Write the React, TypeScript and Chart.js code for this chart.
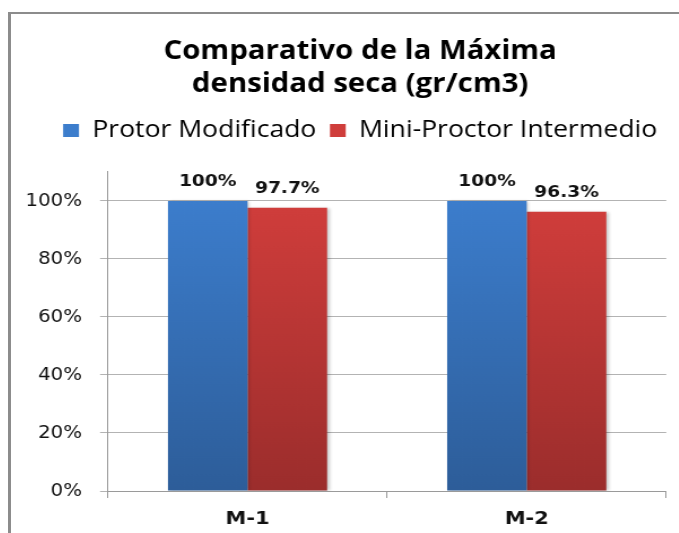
import React, { useEffect, useRef } from "react";
import { Chart, registerables } from "chart.js";

Chart.register(...registerables);

const titleLines = ["Comparativo de la Máxima", "densidad seca (gr/cm3)"];
const categories = ["M-1", "M-2"];
const seriesNames = ["Protor Modificado", "Mini-Proctor Intermedio"];
const protorValues = [1.0, 1.0];
const miniValues = [0.977, 0.963];
const yTickValues = [0, 0.2, 0.4, 0.6, 0.8, 1.0];
const yMax = 1.1;

const blueTop = "#3C7DCC";
const blueBottom = "#2D5D99";
const redTop = "#CF3D3B";
const redBottom = "#9B2D2C";

const STRETCH = 1.13;
const CW = 618;
const CH = 519;
const Y_AXIS_W = 85.8;
const RIGHT_SPACE_W = 38.1;
const X_AXIS_H = 42;
const SPACER_H = 19.75;

function gradientFill(top: string, bottom: string) {
  return (ctx: any) => {
    const chart = ctx.chart;
    const area = chart.chartArea;
    if (!area || ctx.type !== "data") return top;
    const ys = chart.scales.y;
    const y0 = ys.getPixelForValue(ctx.raw);
    const y1 = ys.getPixelForValue(0);
    if (!isFinite(y0) || !isFinite(y1) || y1 - y0 < 1) return top;
    const g = chart.ctx.createLinearGradient(0, y0, 0, y1);
    g.addColorStop(0, top);
    g.addColorStop(1, bottom);
    return g;
  };
}

const barShadow = {
  id: "barShadow",
  beforeDatasetsDraw(chart: any) {
    const ctx = chart.ctx;
    ctx.save();
    ctx.shadowColor = "rgba(0,0,0,0.22)";
    ctx.shadowBlur = 3;
    ctx.shadowOffsetX = 2;
    ctx.shadowOffsetY = 0;
  },
  afterDatasetsDraw(chart: any) {
    chart.ctx.restore();
  },
};

const valueLabels = {
  id: "valueLabels",
  afterDatasetsDraw(chart: any) {
    const ctx = chart.ctx;
    ctx.save();
    ctx.shadowColor = "rgba(0,0,0,0)";
    ctx.font = 'bold 16.5px "DejaVu Sans"';
    ctx.fillStyle = "#111111";
    ctx.textAlign = "center";
    ctx.textBaseline = "alphabetic";
    chart.data.datasets.forEach((ds: any, i: number) => {
      const meta = chart.getDatasetMeta(i);
      meta.data.forEach((bar: any, j: number) => {
        const v = ds.data[j];
        const txt = `${Math.round(v * 1000) / 10}%`;
        ctx.fillText(txt, bar.x, bar.y - 14.5);
      });
    });
    ctx.restore();
  },
};

const hiddenAxis = (position: string, size: number) => ({
  type: "linear",
  position,
  display: true,
  grid: { display: false },
  border: { display: false },
  ticks: { display: false },
  afterFit: (s: any) => {
    if (position === "top" || position === "bottom") s.height = size;
    else s.width = size;
  },
});

export default function App() {
  const canvasRef = useRef<HTMLCanvasElement | null>(null);

  useEffect(() => {
    if (!canvasRef.current) return;
    const chart = new Chart(canvasRef.current, {
      type: "bar",
      data: {
        labels: categories,
        datasets: [
          {
            label: seriesNames[0],
            data: protorValues,
            backgroundColor: gradientFill(blueTop, blueBottom),
            borderWidth: 0,
            categoryPercentage: 0.57,
            barPercentage: 1,
          },
          {
            label: seriesNames[1],
            data: miniValues,
            backgroundColor: gradientFill(redTop, redBottom),
            borderWidth: 0,
            categoryPercentage: 0.57,
            barPercentage: 1,
          },
        ],
      },
      options: {
        responsive: false,
        animation: false,
        devicePixelRatio: 1,
        layout: { padding: 0 },
        plugins: {
          title: {
            display: true,
            text: titleLines,
            color: "#000000",
            font: { family: "'Open Sans'", weight: "bold", size: 26, lineHeight: 1.27 },
            padding: { top: 21, bottom: 5.7 },
          },
          legend: {
            display: true,
            position: "top",
            labels: {
              boxWidth: 14,
              boxHeight: 13,
              padding: 12,
              color: "#000000",
              font: { family: "'Open Sans'", size: 23.5 },
            },
          },
          tooltip: { enabled: false },
        },
        scales: {
          x: {
            type: "category",
            grid: {
              display: true,
              drawOnChartArea: false,
              drawTicks: true,
              tickLength: 7,
              color: "#9a9a9a",
              offset: true,
            },
            border: { display: true, color: "#9a9a9a", width: 1 },
            ticks: {
              color: "#111111",
              font: { family: "'DejaVu Sans'", weight: "bold", size: 18.5 },
              padding: 10,
              maxRotation: 0,
            },
            afterFit: (s: any) => {
              s.height = X_AXIS_H;
            },
          },
          y: {
            type: "linear",
            min: 0,
            max: yMax,
            afterBuildTicks: (s: any) => {
              s.ticks = yTickValues.map((v) => ({ value: v }));
            },
            ticks: {
              callback: (v: any) => `${Math.round(Number(v) * 100)}%`,
              padding: 16,
              color: "#111111",
              font: { family: "'DejaVu Sans'", size: 17.5 },
            },
            grid: { color: "#b3b3b3", tickLength: 7, drawTicks: true },
            border: { display: true, color: "#9a9a9a" },
            afterFit: (s: any) => {
              s.width = Y_AXIS_W;
            },
          },
          spaceTop: hiddenAxis("top", SPACER_H),
          spaceRight: hiddenAxis("right", RIGHT_SPACE_W),
        },
      },
      plugins: [barShadow, valueLabels],
    } as any);
    return () => chart.destroy();
  }, []);

  return (
    <div
      style={{
        position: "fixed",
        left: 0,
        top: 0,
        width: 679,
        height: 533,
        overflow: "hidden",
        background: "#ffffff",
      }}
    >
      <div
        style={{
          position: "absolute",
          left: 8,
          top: 12,
          width: 800,
          height: 800,
          borderLeft: "3px solid #8c8c8c",
          borderTop: "2px solid #8c8c8c",
          boxSizing: "border-box",
        }}
      />
      <div
        style={{
          position: "absolute",
          left: 11,
          top: 14,
          width: CW,
          height: CH,
          transform: `scaleX(${STRETCH})`,
          transformOrigin: "0 0",
        }}
      >
        <canvas ref={canvasRef} width={CW} height={CH} style={{ display: "block" }} />
      </div>
    </div>
  );
}
